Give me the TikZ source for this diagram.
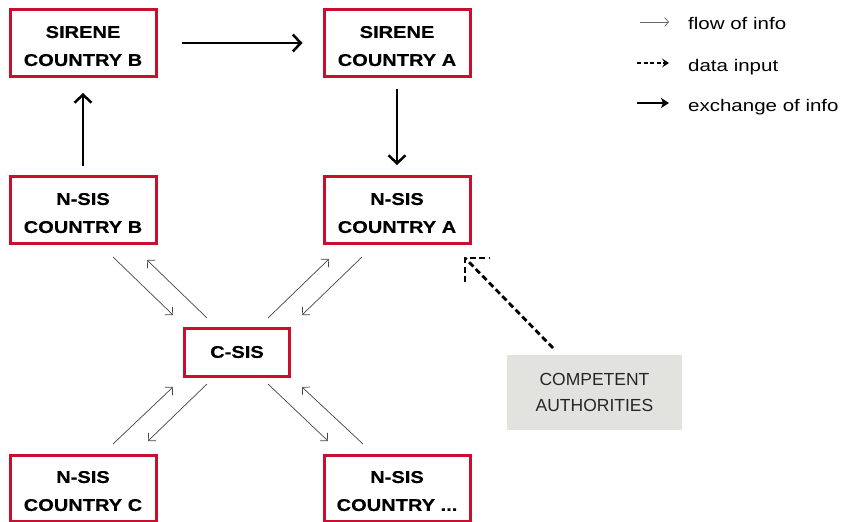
\documentclass[tikz,border=0pt]{standalone}
\usepackage{fontspec}
\setmainfont{Liberation Sans}
\newfontfamily\boxfont[FakeStretch=1.18,FakeBold=0.4]{Liberation Sans Bold}
\newfontfamily\legfont[FakeStretch=1.22]{Liberation Sans}
\usetikzlibrary{arrows.meta,calc}
\definecolor{sisred}{HTML}{C8102E}
\definecolor{cagray}{HTML}{E2E2DF}
\definecolor{thin}{HTML}{444444}
\newcommand{\twoline}[2]{\rule{0pt}{18pt}#1\\#2}
\tikzset{
  sysbox/.style={draw=sisred, line width=3pt, fill=white, minimum width=146pt, minimum height=67pt,
    align=center, inner sep=0pt, font=\boxfont\fontsize{17}{28}\selectfont},
  exch/.style={line width=2.5pt, -{Straight Barb[length=8pt,width=17pt,line width=2.5pt]}},
  flow/.style={draw=thin, line width=0.7pt, -{Straight Barb[length=5.5pt,width=11pt,line width=0.7pt]}},
  datain/.style={line width=2.8pt, dash pattern=on 6pt off 3.5pt},
  legtext/.style={anchor=base west, inner sep=0pt, font=\legfont\fontsize{16.8}{20}\selectfont},
}
\begin{document}
\begin{tikzpicture}[x=1pt,y=-1pt]
\useasboundingbox (0,0) rectangle (844,522);
% boxes
\node[sysbox] (sirB) at (83,43) {\twoline{SIRENE}{COUNTRY B}};
\node[sysbox] (sirA) at (397,43) {\twoline{SIRENE}{COUNTRY A}};
\node[sysbox] (nsB) at (83,210) {\twoline{N-SIS}{COUNTRY B}};
\node[sysbox] (nsA) at (397,210) {\twoline{N-SIS}{COUNTRY A}};
\node[sysbox, minimum width=105pt, minimum height=48pt] (csis) at (237,352) {C-SIS};
\node[sysbox, minimum height=66pt] (nsC) at (83,488) {\twoline{N-SIS}{COUNTRY C}};
\node[sysbox, minimum height=66pt] (nsX) at (397,488) {\twoline{N-SIS}{COUNTRY ...}};
\node[fill=cagray, minimum width=175pt, minimum height=75pt, inner sep=0pt, align=center,
      text=black!85, font=\fontsize{17.5}{26}\selectfont] (ca) at (594.5,392.5) {COMPETENT\\AUTHORITIES};

% exchange arrows
\draw[exch] ([xshift=24pt]sirB.east) -- ([xshift=-20pt]sirA.west);
\draw[exch] ([yshift=9pt]nsB.north) -- ([yshift=-15pt]sirB.south);
\draw[exch] ([yshift=-11pt]sirA.south) -- ([yshift=10pt]nsA.north);

% flow arrows around C-SIS
\coordinate (b1s) at (113,257); \coordinate (b1e) at (173,315);
\coordinate (b2s) at (207,318); \coordinate (b2e) at (147,260);
\draw[flow] (b1s) -- (b1e);
\draw[flow] (b2s) -- (b2e);
\coordinate (a1s) at (268,318); \coordinate (a1e) at (329,259);
\coordinate (a2s) at (362,257); \coordinate (a2e) at (302,315);
\draw[flow] (a1s) -- (a1e);
\draw[flow] (a2s) -- (a2e);
\coordinate (c1s) at (113,444); \coordinate (c1e) at (173,387);
\coordinate (c2s) at (207,384); \coordinate (c2e) at (148,441);
\draw[flow] (c1s) -- (c1e);
\draw[flow] (c2s) -- (c2e);
\coordinate (x1s) at (268,384); \coordinate (x1e) at (328,441);
\coordinate (x2s) at (363,444); \coordinate (x2e) at (302,387);
\draw[flow] (x1s) -- (x1e);
\draw[flow] (x2s) -- (x2e);

% data input arrow
\coordinate (dstart) at (553,348);
\coordinate (dtip) at (465,258);
\draw[datain] (dstart) -- (dtip);
\draw[datain] ($(dtip)+(0,24)$) -- (dtip) -- ($(dtip)+(25,0)$);

% legend
\coordinate (l1s) at (640,22); \coordinate (l1e) at (669,22);
\draw[draw=black!60, line width=0.7pt, -{Straight Barb[length=4pt,width=9pt,line width=0.7pt]}] (l1s) -- (l1e);
\node[legtext] (l1) at (688,30) {flow of info};
\coordinate (l2s) at (637,63); \coordinate (l2e) at (669,63);
\draw[line width=2.4pt, dash pattern=on 4pt off 2.5pt, -{Stealth[length=7pt,width=9pt,inset=3pt]}] (l2s) -- (l2e);
\node[legtext] (l2) at (688,71) {data input};
\coordinate (l3s) at (637,103); \coordinate (l3e) at (669,103);
\draw[line width=2.6pt, -{Stealth[length=8pt,width=10pt,inset=2pt]}] (l3s) -- (l3e);
\node[legtext] (l3) at (688,111) {exchange of info};
\end{tikzpicture}
\end{document}
